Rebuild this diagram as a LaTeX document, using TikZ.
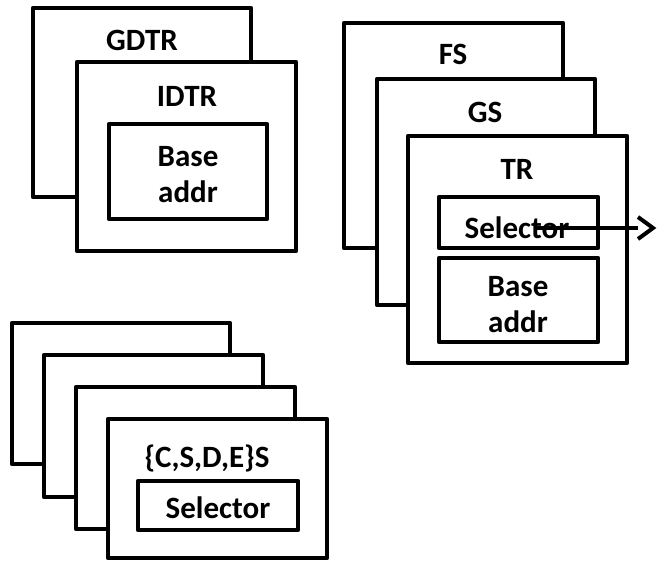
\documentclass[tikz,border=0pt]{standalone}
\usepackage{fontspec}
\setmainfont{Carlito}
\begin{document}
\begin{tikzpicture}[x=1pt,y=-1pt,
  regbox/.style={draw=black, fill=white, line width=4.5pt, line join=round,
    inner sep=0pt, rectangle},
  lbl/.style={font=\bfseries\fontsize{31}{36}\selectfont, align=center, inner sep=0pt},
  ptr/.style={line width=4pt},
  chevron/.style={line width=4pt, line join=miter}
]
\useasboundingbox (0,0) rectangle (658,563);

% box from corner (x1,y1) to corner (x2,y2), line centres
\newcommand{\regrect}[5]{%
  \node[regbox, minimum width={#4-#2}, minimum height={#5-#3}]
    (#1) at ({(#2+#4)/2},{(#3+#5)/2}) {};}

% descriptor table registers
\regrect{gdtr}{33}{8}{251}{197}
\node[lbl] (gdtrtxt) at (142,40) {GDTR};
\regrect{idtr}{77}{62}{296}{251}
\node[lbl] (idtrtxt) at (187,96) {IDTR};
\regrect{idtrbase}{109}{124}{267}{219}
\node[lbl] (idtrbasetxt) at (188,175) {Base\\addr};

% FS, GS and the task register
\regrect{fs}{344}{23}{563}{248}
\node[lbl] (fstxt) at (453,54) {FS};
\regrect{gs}{377}{79}{595}{305}
\node[lbl] (gstxt) at (485,112) {GS};
\regrect{tr}{408}{136}{627}{363}
\node[lbl] (trtxt) at (517,169) {TR};
\regrect{trsel}{439}{197}{598}{248}
\node[lbl] (trseltxt) at (517,228) {Selector};
\regrect{trbase}{439}{258}{598}{342}
\node[lbl] (trbasetxt) at (518,305) {Base\\addr};

% pointer out of the TR selector: shaft, then an open chevron head
\coordinate (ptrstart) at (537,228);
\coordinate (ptrshaft) at (638,228);
\coordinate (ptrend) at (653,228);
\draw[ptr] (ptrstart) -- (ptrshaft);
\draw[chevron] ([yshift=-11pt]ptrshaft) -- (ptrend) -- ([yshift=11pt]ptrshaft);

% stacked segment registers
\regrect{seg1}{12}{323}{230}{464}
\regrect{seg2}{44}{355}{263}{497}
\regrect{seg3}{76}{387}{295}{529}
\regrect{seg4}{108}{419}{327}{558}
\node[lbl] (seg4txt) at (207,458) {\{C,S,D,E\}S};
\regrect{segsel}{138}{481}{298}{530}
\node[lbl] (segseltxt) at (218,508) {Selector};
\end{tikzpicture}
\end{document}
